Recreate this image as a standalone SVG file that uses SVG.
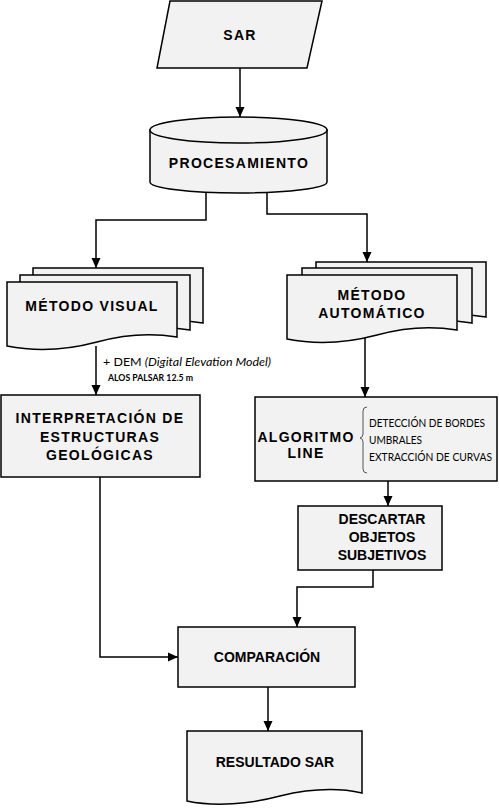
<svg xmlns="http://www.w3.org/2000/svg" xmlns:xlink="http://www.w3.org/1999/xlink" width="499" height="809" viewBox="0 0 499 809">
<style>
.s{fill:#f2f2f2;stroke:#000;stroke-width:1.5}
.c{fill:none;stroke:#000;stroke-width:1.5}
.t{font-family:"Liberation Sans",Arial,sans-serif;font-weight:bold;font-size:14px;fill:#000;text-anchor:middle}
.sp{letter-spacing:1.3px}
.n{font-family:Lato,"Liberation Sans",sans-serif;font-size:10.5px;fill:#000}
.a{font-family:Lato,"Liberation Sans",sans-serif;fill:#000}
</style>
<defs>
<marker id="ah" markerWidth="10" markerHeight="10" refX="10" refY="5" orient="auto" markerUnits="userSpaceOnUse">
<path d="M0,0.5 L10,5 L0,9.5 Z" fill="#000"/>
</marker>
<path id="doc" d="M0,0 H170 V55 C140,50 115,53 90,60 C60,68 30,70 0,64 Z"/>
</defs>

<g id="connectors">
<path class="c" d="M240,68 V117" marker-end="url(#ah)"/>
<path class="c" d="M206,193 V220 H96 V268" marker-end="url(#ah)"/>
<path class="c" d="M267,193 V214 H367 V262" marker-end="url(#ah)"/>
<path class="c" d="M96,346 V395" marker-end="url(#ah)"/>
<path class="c" d="M365,338 V397" marker-end="url(#ah)"/>
<path class="c" d="M388,481 V506" marker-end="url(#ah)"/>
<path class="c" d="M373,570 V587 H297 V627" marker-end="url(#ah)"/>
<path class="c" d="M100,477 V657 H178" marker-end="url(#ah)"/>
<path class="c" d="M268,687 V731" marker-end="url(#ah)"/>
</g>

<g id="sar">
<polygon class="s" points="170,1 322,1 307,68 157,68"/>
<text class="t sp" x="240" y="40">SAR</text>
</g>

<g id="procesamiento">
<path class="s" d="M150,130 V182 A88.5,11 0 0 0 327,182 V130 Z"/>
<ellipse class="s" cx="238.5" cy="130" rx="88.5" ry="13"/>
<text class="t sp" x="239" y="168">PROCESAMIENTO</text>
</g>

<g id="metodo-visual">
<use xlink:href="#doc" href="#doc" class="s" x="33" y="268"/>
<use xlink:href="#doc" href="#doc" class="s" x="20" y="275"/>
<use xlink:href="#doc" href="#doc" class="s" x="7" y="282"/>
<text class="t sp" x="92" y="311">MÉTODO VISUAL</text>
</g>

<g id="dem-label">
<text class="a" x="103" y="366" font-size="12" textLength="168" lengthAdjust="spacingAndGlyphs">+ DEM <tspan font-style="italic">(Digital Elevation Model)</tspan></text>
<text class="a" x="108" y="381" font-size="9.5" font-weight="bold" textLength="85" lengthAdjust="spacingAndGlyphs">ALOS PALSAR 12.5 m</text>
</g>

<g id="metodo-automatico">
<use xlink:href="#doc" href="#doc" class="s" x="316" y="262"/>
<use xlink:href="#doc" href="#doc" class="s" x="302" y="268"/>
<use xlink:href="#doc" href="#doc" class="s" x="287" y="275"/>
<text class="t sp" x="372" y="300">MÉTODO</text>
<text class="t sp" x="372" y="318">AUTOMÁTICO</text>
</g>

<g id="interpretacion">
<rect class="s" x="1" y="395" width="199" height="82"/>
<text class="t sp" x="100" y="423">INTERPRETACIÓN DE</text>
<text class="t sp" x="100" y="442">ESTRUCTURAS</text>
<text class="t sp" x="100" y="460">GEOLÓGICAS</text>
</g>

<g id="algoritmo">
<rect class="s" x="255" y="397" width="242" height="84"/>
<text class="t sp" x="306" y="442">ALGORITMO</text>
<text class="t sp" x="306" y="458">LINE</text>
<path fill="none" stroke="#555" stroke-width="1" d="M367,407 Q363,407 363,411 V434 Q363,437.5 360,438 Q363,438.5 363,442 V469 Q363,473 367,473"/>
<text class="n" x="369" y="427" textLength="116" lengthAdjust="spacingAndGlyphs">DETECCIÓN DE BORDES</text>
<text class="n" x="369" y="444" textLength="53" lengthAdjust="spacingAndGlyphs">UMBRALES</text>
<text class="n" x="369" y="461" textLength="123" lengthAdjust="spacingAndGlyphs">EXTRACCIÓN DE CURVAS</text>
</g>

<g id="descartar">
<rect class="s" x="298" y="506" width="144" height="64"/>
<text class="t" x="382" y="524">DESCARTAR</text>
<text class="t" x="382" y="542">OBJETOS</text>
<text class="t" x="382" y="560">SUBJETIVOS</text>
</g>

<g id="comparacion">
<rect class="s" x="178" y="627" width="177" height="60"/>
<text class="t" x="267" y="662">COMPARACIÓN</text>
</g>

<g id="resultado">
<path class="s" d="M187,731 H362 V793 C335,787 305,790 280,796 C250,804 215,807 187,801 Z"/>
<text class="t" x="275" y="767">RESULTADO SAR</text>
</g>
</svg>
